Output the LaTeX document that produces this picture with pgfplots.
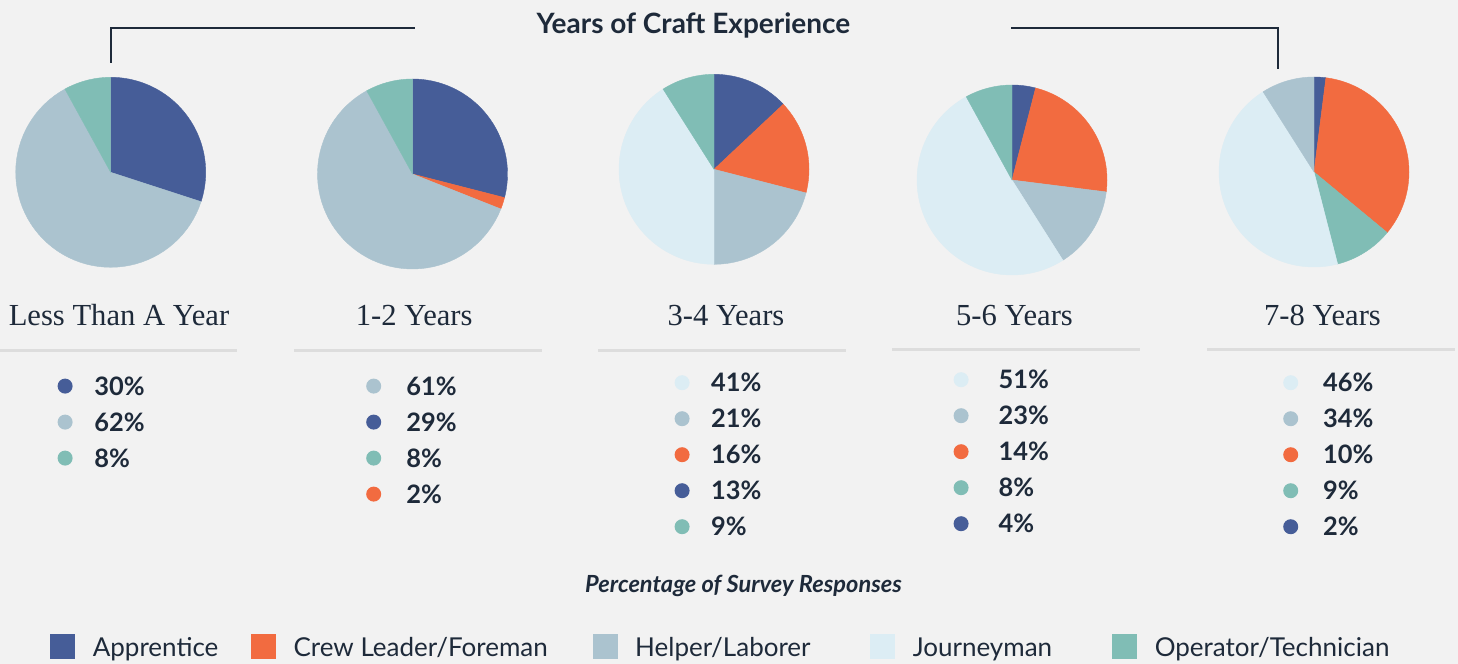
\documentclass[border=0pt]{standalone}
\usepackage{pgfplots}
\pgfplotsset{compat=1.18}
\usepackage{fontspec}
\setmainfont{Lato}
\newfontfamily\seriffont{Liberation Serif}
\definecolor{bgc}{HTML}{F2F2F2}
\definecolor{navy}{HTML}{1E2A3A}
\definecolor{sepc}{HTML}{DDDDDD}
\definecolor{apprentice}{HTML}{465D98}
\definecolor{crew}{HTML}{F26B40}
\definecolor{helper}{HTML}{ABC3CF}
\definecolor{journey}{HTML}{DCEDF4}
\definecolor{oper}{HTML}{80BDB5}
\pgfplotsset{
  dotleg/.style={legend image code/.code={\fill[##1] (0pt,0pt) circle[radius=3.75pt];}},
  sqleg/.style={legend image code/.code={\fill[##1] (0pt,-6.25pt) rectangle (12.5pt,6.25pt);}},
  pie/.style={hide axis, scale only axis, width=95pt, height=95pt,
    xmin=-1, xmax=1, ymin=-1, ymax=1, anchor=center, clip=false,
    legend cell align=left,
    legend style={anchor=north west, draw=none, fill=none,
      inner xsep=0pt, inner ysep=0pt, row sep=9pt,
      font=\bfseries\fontsize{12.7}{15}\selectfont, text=navy,
      nodes={inner sep=0pt, text height=9pt, text depth=0pt}}},
}
% slice: colour, cumulative start (%), share (%)
\newcommand\slice[3]{\addplot[fill=#1, draw=#1, line width=0.2pt, forget plot,
  domain=90-3.6*(#2+#3):90-3.6*#2, samples=60] ({cos(x)},{sin(x)}) -- (axis cs:0,0) -- cycle;}
\newcommand\dotentry[2]{\addlegendimage{dotleg, fill=#1, draw=none}\addlegendentry{#2\%}}
\begin{document}
\begin{tikzpicture}[x=0.5pt, y=0.5pt]
\path[use as bounding box, fill=bgc] (0,0) rectangle (1458,-664);
\coordinate (c1) at (110.7,-172.3);
\coordinate (c2) at (412.5,-174);
\coordinate (c3) at (714,-169.3);
\coordinate (c4) at (1012,-180);
\coordinate (c5) at (1314,-172);
% title and bracket
\node[anchor=base, font=\bfseries\fontsize{14}{16}\selectfont, text=navy, inner sep=0pt] at (693.5,-33.3) {Years of Craft Experience};
\draw[navy, line width=0.8pt] (110.7,-62.7) -- (110.7,-27.7) -- (415,-27.7);
\draw[navy, line width=0.8pt] (1011,-27.7) -- (1278,-27.7) -- (1278,-69);
% separators
\draw[sepc, line width=1.4pt] (0,-350.3) -- (236.7,-350.3);
\draw[sepc, line width=1.4pt] (294,-350.3) -- (542,-350.3);
\draw[sepc, line width=1.4pt] (598,-350.3) -- (845.7,-350.3);
\draw[sepc, line width=1.4pt] (892,-349.3) -- (1140,-349.3);
\draw[sepc, line width=1.4pt] (1207,-349.3) -- (1455,-349.3);
% group labels
\begin{scope}[every node/.style={anchor=base, inner sep=0pt, text=navy, font=\seriffont\fontsize{15.3}{18}\selectfont}]
\node at (119,-325) {Less Than A Year};
\node at (414.2,-325) {1-2 Years};
\node at (726,-325) {3-4 Years};
\node at (1014.5,-325) {5-6 Years};
\node at (1322.5,-325) {7-8 Years};
\end{scope}
\node[anchor=base, inner sep=0pt, text=navy, font=\bfseries\itshape\fontsize{11.8}{14}\selectfont] at (743.5,-592.3) {Percentage of Survey Responses};

% Less Than A Year
\begin{axis}[pie, at={(c1)}, legend style={at={(0.2184,-0.5758)}, column sep=10.9pt}]
\slice{apprentice}{0}{30}
\slice{helper}{30}{62}
\slice{oper}{92}{8}
\dotentry{apprentice}{30}
\dotentry{helper}{62}
\dotentry{oper}{8}
\end{axis}
% 1-2 Years
\begin{axis}[pie, at={(c2)}, legend style={at={(0.2542,-0.5668)}, column sep=12.6pt}]
\slice{apprentice}{0}{29}
\slice{crew}{29}{2}
\slice{helper}{31}{61}
\slice{oper}{92}{8}
\dotentry{helper}{61}
\dotentry{apprentice}{29}
\dotentry{oper}{8}
\dotentry{crew}{2}
\end{axis}
% 3-4 Years
\begin{axis}[pie, at={(c3)}, legend style={at={(0.2905,-0.5737)}, column sep=10.75pt}]
\slice{apprentice}{0}{13}
\slice{crew}{13}{16}
\slice{helper}{29}{21}
\slice{journey}{50}{41}
\slice{oper}{91}{9}
\dotentry{journey}{41}
\dotentry{helper}{21}
\dotentry{crew}{16}
\dotentry{apprentice}{13}
\dotentry{oper}{9}
\end{axis}
% 5-6 Years
\begin{axis}[pie, at={(c4)}, legend style={at={(0.1905,-0.5016)}, column sep=15pt}]
\slice{apprentice}{0}{4}
\slice{crew}{4}{23}
\slice{helper}{27}{14}
\slice{journey}{41}{51}
\slice{oper}{92}{8}
\dotentry{journey}{51}
\dotentry{helper}{23}
\dotentry{crew}{14}
\dotentry{oper}{8}
\dotentry{apprentice}{4}
\end{axis}
% 7-8 Years
\begin{axis}[pie, at={(c5)}, legend style={at={(0.3358,-0.5595)}, column sep=12.45pt}]
\slice{apprentice}{0}{2}
\slice{crew}{2}{34}
\slice{oper}{36}{10}
\slice{journey}{46}{45}
\slice{helper}{91}{9}
\dotentry{journey}{46}
\dotentry{helper}{34}
\dotentry{crew}{10}
\dotentry{oper}{9}
\dotentry{apprentice}{2}
\end{axis}
% category legend
\begin{axis}[hide axis, scale only axis, width=729pt, height=332pt,
  at={(0,-664)}, anchor=south west, xmin=0, xmax=1458, ymin=-664, ymax=0,
  legend columns=5, legend cell align=left,
  legend style={at={(0.03416,0.04518)}, anchor=north west, draw=none, fill=none,
    inner xsep=0pt, inner ysep=0pt, text=navy,
    font=\fontsize{13}{15}\selectfont,
    nodes={inner sep=0pt, text height=9.4pt, text depth=0pt},
    /tikz/column 1/.style={column sep=8.8pt},
    /tikz/column 2/.style={column sep=16.3pt},
    /tikz/column 3/.style={column sep=8.8pt},
    /tikz/column 4/.style={column sep=22.4pt},
    /tikz/column 5/.style={column sep=8.8pt},
    /tikz/column 6/.style={column sep=29.8pt},
    /tikz/column 7/.style={column sep=8.8pt},
    /tikz/column 8/.style={column sep=30pt},
    /tikz/column 9/.style={column sep=8.8pt}}]
\addlegendimage{sqleg, fill=apprentice, draw=none}\addlegendentry{Apprentice}
\addlegendimage{sqleg, fill=crew, draw=none}\addlegendentry{Crew Leader/Foreman}
\addlegendimage{sqleg, fill=helper, draw=none}\addlegendentry{Helper/Laborer}
\addlegendimage{sqleg, fill=journey, draw=none}\addlegendentry{Journeyman}
\addlegendimage{sqleg, fill=oper, draw=none}\addlegendentry{Operator/Technician}
\end{axis}
\end{tikzpicture}
\end{document}
